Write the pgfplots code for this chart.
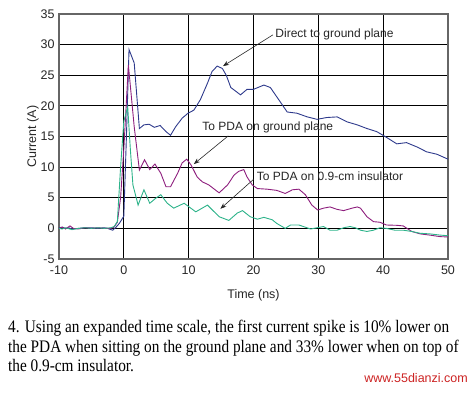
\documentclass[border=0pt]{standalone}
\usepackage{fontspec}
\setmainfont{Liberation Serif}
\setsansfont{Liberation Sans}
\usepackage{graphicx}
\usepackage{pgfplots}
\pgfplotsset{compat=1.18}
\usetikzlibrary{arrows.meta}
\definecolor{cblue}{HTML}{2E3A8C}
\definecolor{cmag}{HTML}{8E1F7E}
\definecolor{cgreen}{HTML}{2DB38A}
\definecolor{wred}{HTML}{CC2222}
\newcommand{\capline}[1]{\scalebox{1}[1.15]{\fontsize{15.3}{20}\selectfont #1}}
\begin{document}
\begin{tikzpicture}[x=1pt,y=1pt]
\path[use as bounding box] (0,0) rectangle (475,394);
\begin{axis}[
  at={(59pt,135pt)}, anchor=south west,
  scale only axis, width=389pt, height=245pt,
  xmin=-10, xmax=50, ymin=-5, ymax=35,
  xtick={-10,0,...,50}, ytick={-5,0,...,35},
  major tick length=0pt,
  grid=major,
  major grid style={black, line width=0.9pt},
  axis line style={draw=black!60, line width=1.3pt},
  tick label style={font=\sffamily\fontsize{12.5}{13}\selectfont, text=black!85},
  /pgf/number format/assume math mode=true,
  xticklabel style={yshift=-3pt},
  yticklabel style={xshift=-1pt},
  xlabel={Time (ns)}, ylabel={Current (A)},
  label style={font=\sffamily\fontsize{12.5}{13}\selectfont, text=black!85},
  xlabel style={yshift=-8pt},
  ylabel style={yshift=-5pt},
  clip=true,
]
\addplot[cblue, line width=0.9pt] coordinates {
(-10,0.1) (-9.5,0.2) (-9,0) (-8.5,0.1) (-8,-0.1) (-7,0) (-6,0.1) (-5,0.1) (-4,0) (-3,0.1) (-2.5,0) (-2,-0.2) (-1.7,-0.3) (-1.2,0.2) (-0.7,0.8) (0,2) (0.4,15) (0.8,29.2) (1.6,27) (2.4,16.3) (3.1,16.9) (3.9,17.0) (4.7,16.5) (5.6,16.8) (6.5,15.8) (7.2,15.2) (8.0,16.6) (9.0,18.0) (9.9,18.8) (10.8,19.3) (11.8,21.0) (12.9,23.7) (13.6,25.6) (14.4,26.5) (15.2,26.1) (15.8,25.0) (16.5,23.0) (18.0,21.8) (19.0,22.7) (20.0,22.7) (21.6,23.4) (22.6,23.0) (23.9,21.0) (25.2,19.0) (26.7,18.8) (28.3,18.2) (29.8,17.8) (31.3,18.1) (32.9,18.2) (34.4,17.4) (36.0,16.9) (37.5,16.3) (39.0,15.8) (40.3,15.0) (42.1,13.8) (43.6,14.0) (45.2,13.3) (46.7,12.5) (48.3,12.1) (50,11.3)
};
\addplot[cmag, line width=0.9pt] coordinates {
(-10,0) (-9.5,0.2) (-9,-0.1) (-8.3,0.4) (-7.8,0) (-7,-0.1) (-6,0.1) (-5,0) (-4,0.1) (-3,0) (-2,0) (-1.5,0.2) (-1,1) (-0.5,5) (0,13) (0.7,26.7) (1.6,16.6) (2.4,9.5) (3.2,11.2) (4.0,9.6) (4.8,10.5) (5.7,9.0) (6.5,6.8) (7.2,6.8) (8.3,9.0) (9.0,10.7) (9.7,11.3) (10.4,10.3) (11.3,8.4) (12.1,7.6) (13.1,7.1) (14.7,5.8) (16.0,7.1) (17.0,8.7) (17.7,9.3) (18.5,9.6) (19.0,8.4) (19.8,7.1) (20.6,6.5) (22.1,6.4) (23.6,6.2) (24.9,5.7) (26.0,6.3) (27.0,6.4) (28.0,5.5) (29.0,3.8) (29.9,3.0) (30.8,3.3) (31.8,3.5) (32.9,3.1) (33.9,2.9) (35.2,3.3) (36.0,3.5) (36.5,3.3) (37.5,1.9) (38.5,1.1) (39.5,1.0) (40.5,0.55) (42.1,0.5) (43.1,0.4) (44.4,-0.5) (45.7,-0.9) (47.2,-1.1) (48.8,-1.35) (50,-1.4)
};
\addplot[cgreen, line width=0.9pt] coordinates {
(-10,0) (-9.5,-0.1) (-9,0.1) (-8,-0.2) (-7,0) (-6,0.1) (-5,0) (-4,0.1) (-3,0) (-2,0.1) (-1.5,0.3) (-1,1.1) (-0.5,10) (0,17.5) (0.6,19.8) (1.0,13) (1.4,7.1) (2.2,3.8) (3.1,6.3) (4.0,4.1) (4.9,4.9) (5.7,5.5) (6.7,4.1) (7.7,3.3) (9.3,4.1) (11.1,2.7) (12.9,3.8) (14.7,1.9) (16.2,1.3) (17.5,2.5) (18.3,2.9) (19.5,1.9) (20.6,1.5) (21.6,1.8) (22.9,1.4) (23.6,0.8) (24.9,0) (25.7,0.55) (27.0,0.55) (27.7,0.3) (28.8,-0.1) (29.8,0.1) (30.8,0.3) (31.8,-0.3) (32.9,-0.3) (33.9,0.1) (34.9,0.3) (35.7,0.1) (36.5,-0.3) (37.5,-0.5) (38.5,-0.3) (39.5,0.1) (40.5,0) (41.8,-0.3) (43.1,-0.3) (44.4,-0.5) (45.7,-0.8) (47.2,-0.9) (48.8,-1.1) (50,-1.2)
};
\begin{scope}[font=\sffamily\fontsize{12}{13}\selectfont, text=black!85]
\draw[-{Stealth[length=6pt,width=4.5pt]}, black!85, line width=0.6pt] (axis cs:23.0,31.6) -- (axis cs:15.3,26.5);
\node[anchor=west, inner sep=1pt] at (axis cs:23.2,31.6) {Direct to ground plane};
\draw[-{Stealth[length=6pt,width=4.5pt]}, black!85, line width=0.6pt] (axis cs:16.1,15.1) -- (axis cs:10.8,10.5);
\node[inner sep=1pt] at (axis cs:22.2,16.5) {To PDA on ground plane};
\draw[-{Stealth[length=6pt,width=4.5pt]}, black!85, line width=0.6pt] (axis cs:20.0,8.0) -- (axis cs:14.9,3.2);
\node[inner sep=1pt] at (axis cs:31.8,8.45) {To PDA on 0.9-cm insulator};
\end{scope}
\end{axis}
\node[anchor=base west, inner sep=0pt] at (8,61) {\capline{4. Using an expanded time scale, the first current spike is 10\% lower on}};
\node[anchor=base west, inner sep=0pt] at (8,41) {\capline{the PDA when sitting on the ground plane and 33\% lower when on top of}};
\node[anchor=base west, inner sep=0pt] at (8,22) {\capline{the 0.9-cm insulator.}};
\node[anchor=base east, inner sep=0pt, text=wred, font=\sffamily\fontsize{12.5}{13}\selectfont] at (468,11) {www.55dianzi.com};
\end{tikzpicture}
\end{document}
